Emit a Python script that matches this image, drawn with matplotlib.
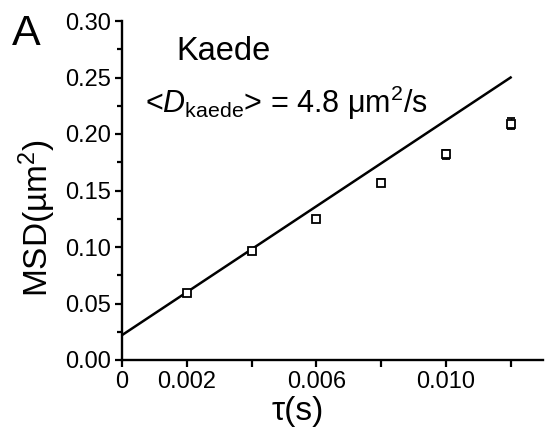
import matplotlib
matplotlib.use("Agg")
import matplotlib.pyplot as plt
from matplotlib.ticker import MultipleLocator

plt.rcParams['font.family'] = ['Liberation Sans', 'DejaVu Sans']
plt.rcParams['mathtext.fontset'] = 'custom'
plt.rcParams['mathtext.rm'] = 'Liberation Sans'
plt.rcParams['mathtext.it'] = 'Liberation Sans:italic'
plt.rcParams['mathtext.default'] = 'regular'

# data
tau = [0.002, 0.004, 0.006, 0.008, 0.010, 0.012]
msd = [0.0594, 0.0968, 0.125, 0.157, 0.182, 0.209]
msd_err = [0.002, 0.002, 0.002, 0.003, 0.004, 0.005]
fit_x = [0.0, 0.012]
fit_y = [0.022, 0.250]
xticks = [0, 0.002, 0.004, 0.006, 0.008, 0.010, 0.012]
xticklabels = ['0', '0.002', '', '0.006', '', '0.010', '']
yticks = [0.00, 0.05, 0.10, 0.15, 0.20, 0.25, 0.30]
yticklabels = ['0.00', '0.05', '0.10', '0.15', '0.20', '0.25', '0.30']

W, H = 545, 429
fig = plt.figure(figsize=(W / 100, H / 100), dpi=100)
ax = fig.add_axes([122 / W, 1 - 360 / H, (543 - 122) / W, (360 - 21) / H])

ax.plot(fit_x, fit_y, color='black', lw=1.8, zorder=2)
ax.errorbar(tau, msd, yerr=msd_err, fmt='s', ms=5.5, mfc='white', mec='black',
            mew=1.3, ecolor='black', elinewidth=1.0, capsize=3, capthick=1.0, zorder=3)

ax.set_xlim(0, 0.013)
ax.set_ylim(0, 0.30)
ax.set_xticks(xticks)
ax.set_xticklabels(xticklabels)
ax.set_yticks(yticks)
ax.set_yticklabels(yticklabels)
ax.yaxis.set_minor_locator(MultipleLocator(0.025))

for s in ['top', 'right']:
    ax.spines[s].set_visible(False)
for s in ['left', 'bottom']:
    ax.spines[s].set_linewidth(1.7)
ax.tick_params(which='major', direction='out', length=5, width=1.6, labelsize=17, pad=3)
ax.tick_params(which='minor', direction='out', length=3.5, width=1.6)

ax.set_xlabel('τ(s)', fontsize=24)
ax.xaxis.set_label_coords(0.418, -0.105)
ax.set_ylabel('MSD(µm$^2$)', fontsize=24)
ax.yaxis.set_label_coords(-0.152, 0.417)

fig.text(12 / W, 1 - 45 / H, 'A', fontsize=31, va='baseline', ha='left')
fig.text(176 / W, 1 - 60 / H, 'Kaede', fontsize=23.5, va='baseline', ha='left')
fig.text(145 / W, 1 - 113 / H,
         r'<$\mathit{D}_{\mathrm{kaede}}$> = 4.8 $\mu$m$^{2}$/s',
         fontsize=22, va='baseline', ha='left')

fig.savefig('out.png', dpi=100)
